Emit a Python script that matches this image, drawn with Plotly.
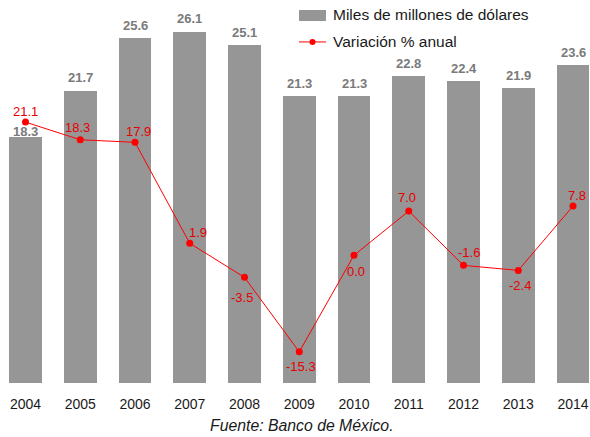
import plotly.graph_objects as go

# Data
years = ["2004", "2005", "2006", "2007", "2008", "2009", "2010", "2011", "2012", "2013", "2014"]
miles_millones = [18.3, 21.7, 25.6, 26.1, 25.1, 21.3, 21.3, 22.8, 22.4, 21.9, 23.6]
variacion = [21.1, 18.3, 17.9, 1.9, -3.5, -15.3, 0.0, 7.0, -1.6, -2.4, 7.8]

# Label placement offsets (pixels)
bar_label_lift = [5, 13, 13, 13, 13, 13, 13, 13, 13, 13, 13]
line_label_dx = [0, -3, 3, 8, -3, 2, 2, -2, 5, 2, 4]
line_label_dy = [-11, -12, -11, -11, 20, 15, 16, -14, -13, 15, -11]

W, H = 590, 437
M_T, M_B = 6, 53.5
PLOT_H = H - M_T - M_B

FONT = "Liberation Sans, Arial, sans-serif"
BAR_COLOR = "#969696"
RED = "#ff0000"
TEXT = "#1a1a1a"


def paper_x(px):
    return px / W


def paper_y(py):
    return (H - M_B - py) / PLOT_H


idx = list(range(len(years)))

fig = go.Figure()
fig.add_trace(go.Bar(
    x=idx, y=miles_millones, width=0.6,
    marker=dict(color=BAR_COLOR, line=dict(width=0)),
    name="Miles de millones de dólares", showlegend=False,
    hoverinfo="skip",
))
fig.add_trace(go.Scatter(
    x=idx, y=variacion, yaxis="y2", mode="lines+markers",
    line=dict(color=RED, width=1),
    marker=dict(color=RED, size=7),
    name="Variación % anual", showlegend=False,
    hoverinfo="skip",
))

annotations = []
for i, v in enumerate(miles_millones):
    annotations.append(dict(
        x=i, y=v, xref="x", yref="y", text=f"{v:.1f}", showarrow=False,
        xanchor="center", yanchor="middle", yshift=bar_label_lift[i],
        font=dict(family=FONT, size=13, color="#7a7a7a", weight="bold"),
    ))
for i, v in enumerate(variacion):
    annotations.append(dict(
        x=i, y=v, xref="x", yref="y2", text=f"{v:.1f}", showarrow=False,
        xanchor="center", yanchor="middle",
        xshift=line_label_dx[i], yshift=-line_label_dy[i],
        font=dict(family=FONT, size=13, color="#e60000"),
    ))

# Legend entries
annotations.append(dict(
    x=paper_x(331), y=paper_y(15), xref="paper", yref="paper",
    text="Miles de millones de dólares", showarrow=False,
    xanchor="left", yanchor="middle",
    font=dict(family=FONT, size=15.5, color=TEXT),
))
annotations.append(dict(
    x=paper_x(331), y=paper_y(42), xref="paper", yref="paper",
    text="Variación % anual", showarrow=False,
    xanchor="left", yanchor="middle",
    font=dict(family=FONT, size=15.5, color=TEXT),
))
# Source note
annotations.append(dict(
    x=paper_x(301.5), y=paper_y(426), xref="paper", yref="paper",
    text="<i>Fuente: Banco de México.</i>", showarrow=False,
    xanchor="center", yanchor="middle",
    font=dict(family=FONT, size=15.8, color=TEXT),
))

shapes = [
    dict(type="rect", xref="paper", yref="paper",
         x0=paper_x(299), x1=paper_x(326), y0=paper_y(21), y1=paper_y(10),
         fillcolor=BAR_COLOR, line=dict(width=0)),
    dict(type="line", xref="paper", yref="paper",
         x0=paper_x(299), x1=paper_x(326), y0=paper_y(42), y1=paper_y(42),
         line=dict(color=RED, width=1)),
    dict(type="circle", xref="paper", yref="paper",
         x0=paper_x(309.5), x1=paper_x(315.5), y0=paper_y(45), y1=paper_y(39),
         fillcolor=RED, line=dict(width=0)),
]

fig.update_layout(
    width=W, height=H,
    margin=dict(l=0, r=0, t=M_T, b=M_B, pad=0),
    paper_bgcolor="white", plot_bgcolor="white",
    showlegend=False,
    bargap=0,
    xaxis=dict(
        range=[-25.5 / 54.75, (W - 25.5) / 54.75],
        tickvals=idx, ticktext=years,
        tickfont=dict(family=FONT, size=14, color=TEXT),
        showgrid=False, zeroline=False, showline=False,
        ticks="outside", ticklen=8, tickcolor="rgba(0,0,0,0)",
        fixedrange=True,
    ),
    yaxis=dict(
        range=[0, 28], visible=False, showgrid=False, zeroline=False,
        fixedrange=True,
    ),
    yaxis2=dict(
        range=[(255.6 - (H - M_B)) / 6.319, (255.6 - M_T) / 6.319],
        overlaying="y", side="right", visible=False,
        showgrid=False, zeroline=False, fixedrange=True,
    ),
    annotations=annotations,
    shapes=shapes,
)

fig.write_html("out.html")
